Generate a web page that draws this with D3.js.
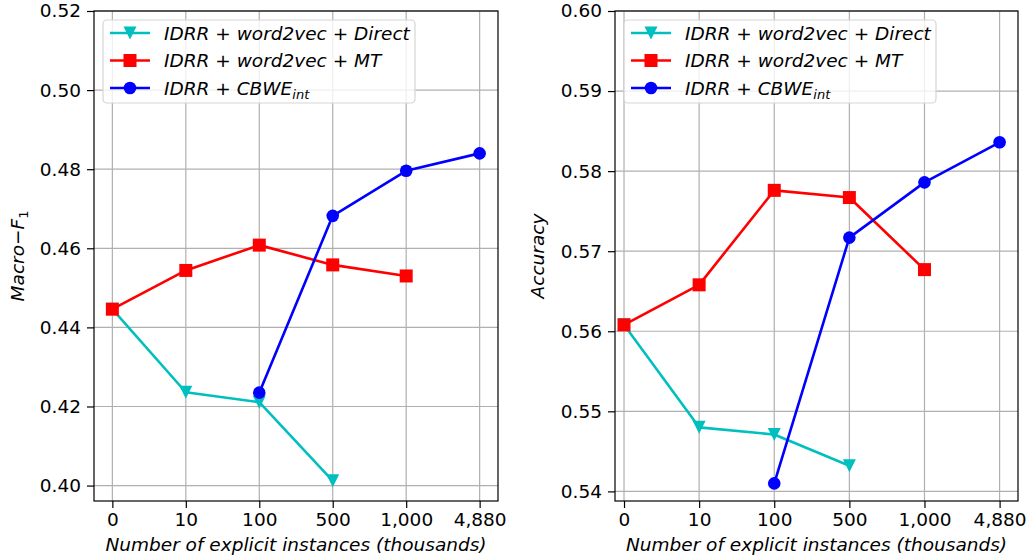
<!DOCTYPE html>
<html>
<head>
<meta charset="utf-8">
<script src="https://cdn.jsdelivr.net/npm/d3@7"></script>
<style>
  body { margin: 0; background: #fff; }
  svg { font-family: "DejaVu Sans", sans-serif; }
</style>
</head>
<body>
<div id="chart"></div>
<script>
const W = 1029, H = 559;

// tick labels on the x axis (thousands of explicit instances)
const categories = ["0", "10", "100", "500", "1,000", "4,880"];

// Macro-F1 panel
const f1Direct = [0.4446, 0.4236, 0.4211, 0.4012, null, null];
const f1MT = [0.4446, 0.4544, 0.4608, 0.4558, 0.4530, null];
const f1CBWE = [null, null, 0.4235, 0.4682, 0.4796, 0.4840];
const f1Ticks = [0.40, 0.42, 0.44, 0.46, 0.48, 0.50, 0.52];

// Accuracy panel
const accDirect = [0.5608, 0.5480, 0.5471, 0.5432, null, null];
const accMT = [0.5608, 0.5658, 0.5776, 0.5767, 0.5677, null];
const accCBWE = [null, null, 0.5410, 0.5717, 0.5786, 0.5836];
const accTicks = [0.54, 0.55, 0.56, 0.57, 0.58, 0.59, 0.60];

const svg = d3.select('#chart')
  .append('svg')
    .attr('width', W)
    .attr('height', H);

const seriesStyle = [
  { color: '#00bfbf', marker: 'tri' },
  { color: '#ff0000', marker: 'square' },
  { color: '#0000ff', marker: 'circle' }
];

// legend labels as pieces: [text, italic?, sub?]
const legendParts = [
  [['IDRR', 1], [' + ', 0], ['word2vec', 1], [' + ', 0], ['Direct', 1]],
  [['IDRR', 1], [' + ', 0], ['word2vec', 1], [' + ', 0], ['MT', 1]],
  [['IDRR', 1], [' + ', 0], ['CBWE', 1], ['int', 1, 1]]
];

function drawMarker(g, type, x, y, color) {
  const s = 13;
  if (type === 'tri') {
    g.append('path')
      .attr('d', `M${x},${y + s / 2}L${x - s / 2},${y - s / 2}L${x + s / 2},${y - s / 2}Z`)
      .attr('fill', color);
  } else if (type === 'square') {
    g.append('rect')
      .attr('x', x - s / 2).attr('y', y - s / 2)
      .attr('width', s).attr('height', s)
      .attr('fill', color);
  } else {
    g.append('circle')
      .attr('cx', x).attr('cy', y).attr('r', 6.3)
      .attr('fill', color);
  }
}

function panel(opts) {
  const { left, right, top, bottom, xDomain, yDomain, ticks, series, yLabel, yLabelX, id } = opts;
  const x = d3.scaleLinear().domain(xDomain).range([left, right]);
  const y = d3.scaleLinear().domain(yDomain).range([bottom, top]);
  const g = svg.append('g');

  g.append('clipPath').attr('id', id)
    .append('rect')
      .attr('x', left).attr('y', top)
      .attr('width', right - left).attr('height', bottom - top);

  // grid
  const grid = g.append('g').attr('stroke', '#b0b0b0').attr('stroke-width', 1.2);
  categories.forEach((c, i) => {
    grid.append('line').attr('x1', x(i)).attr('x2', x(i)).attr('y1', top).attr('y2', bottom);
  });
  ticks.forEach(t => {
    grid.append('line').attr('x1', left).attr('x2', right).attr('y1', y(t)).attr('y2', y(t));
  });

  // axes
  const xAxis = d3.axisBottom(x)
    .tickValues(d3.range(categories.length))
    .tickFormat(i => categories[i])
    .tickSize(7).tickPadding(5);
  const yAxis = d3.axisLeft(y)
    .tickValues(ticks)
    .tickFormat(d3.format('.2f'))
    .tickSize(7).tickPadding(6);

  g.append('g').attr('transform', `translate(0,${bottom})`).call(xAxis)
    .call(a => a.select('.domain').remove())
    .call(a => a.selectAll('line').attr('stroke', '#000').attr('stroke-width', 1.2))
    .call(a => a.selectAll('text').attr('font-size', 18.5).attr('fill', '#000')
      .attr('font-family', '"DejaVu Sans"'));
  g.append('g').attr('transform', `translate(${left},0)`).call(yAxis)
    .call(a => a.select('.domain').remove())
    .call(a => a.selectAll('line').attr('stroke', '#000').attr('stroke-width', 1.2))
    .call(a => a.selectAll('text').attr('font-size', 18.5).attr('fill', '#000')
      .attr('font-family', '"DejaVu Sans"'));

  // lines and markers
  const plot = g.append('g').attr('clip-path', `url(#${id})`);
  series.forEach((vals, k) => {
    const st = seriesStyle[k];
    const line = d3.line()
      .defined(d => d != null)
      .x((d, i) => x(i))
      .y(d => y(d));
    plot.append('path')
      .datum(vals)
      .attr('d', line)
      .attr('fill', 'none')
      .attr('stroke', st.color)
      .attr('stroke-width', 2.6)
      .attr('stroke-linejoin', 'round');
    vals.forEach((v, i) => {
      if (v != null) drawMarker(plot, st.marker, x(i), y(v), st.color);
    });
  });

  // frame
  g.append('rect')
    .attr('x', left).attr('y', top)
    .attr('width', right - left).attr('height', bottom - top)
    .attr('fill', 'none').attr('stroke', '#000').attr('stroke-width', 1.2);

  // legend
  const lg = g.append('g');
  lg.append('rect')
    .attr('x', left + 9).attr('y', 20)
    .attr('width', 312).attr('height', 83)
    .attr('rx', 4)
    .attr('fill', '#fff').attr('fill-opacity', 0.8)
    .attr('stroke', '#d5d5d5').attr('stroke-width', 1.2);
  legendParts.forEach((parts, k) => {
    const st = seriesStyle[k];
    const cy = 33 + k * 27.5;
    lg.append('line')
      .attr('x1', left + 16).attr('x2', left + 56)
      .attr('y1', cy).attr('y2', cy)
      .attr('stroke', st.color).attr('stroke-width', 2.6);
    drawMarker(lg, st.marker, left + 36, cy, st.color);
    const t = lg.append('text')
      .attr('x', left + 70).attr('y', cy + 6.5)
      .attr('font-size', 18.5).attr('fill', '#000')
      .attr('xml:space', 'preserve');
    parts.forEach(p => {
      const ts = t.append('tspan').text(p[0])
        .attr('font-style', p[1] ? 'italic' : 'normal');
      if (p[2]) ts.attr('font-size', 13).attr('dy', 4);
    });
  });

  // x label
  g.append('text')
    .attr('x', (left + right) / 2).attr('y', 551)
    .attr('text-anchor', 'middle')
    .attr('font-size', 18.5).attr('font-style', 'italic')
    .text('Number of explicit instances (thousands)');

  // y label
  const yl = g.append('text')
    .attr('transform', `translate(${yLabelX},${(top + bottom) / 2}) rotate(-90)`)
    .attr('text-anchor', 'middle')
    .attr('font-size', 18.5)
    .attr('xml:space', 'preserve');
  yLabel.forEach(p => {
    const ts = yl.append('tspan').text(p[0]).attr('font-style', p[1] ? 'italic' : 'normal');
    if (p[2]) ts.attr('font-size', 13).attr('dy', 4);
  });
}

panel({
  id: 'clipL', left: 94, right: 498, top: 11, bottom: 501,
  xDomain: [-0.25, 5.25], yDomain: [0.3961, 0.52],
  ticks: f1Ticks, series: [f1Direct, f1MT, f1CBWE],
  yLabel: [['Macro', 1], ['\u2212', 0], ['F', 1], ['1', 0, 1]], yLabelX: 24
});

panel({
  id: 'clipR', left: 615, right: 1018, top: 11, bottom: 501,
  xDomain: [-0.12, 5.245], yDomain: [0.5388, 0.60],
  ticks: accTicks, series: [accDirect, accMT, accCBWE],
  yLabel: [['Accuracy', 1]], yLabelX: 544
});
</script>
</body>
</html>
